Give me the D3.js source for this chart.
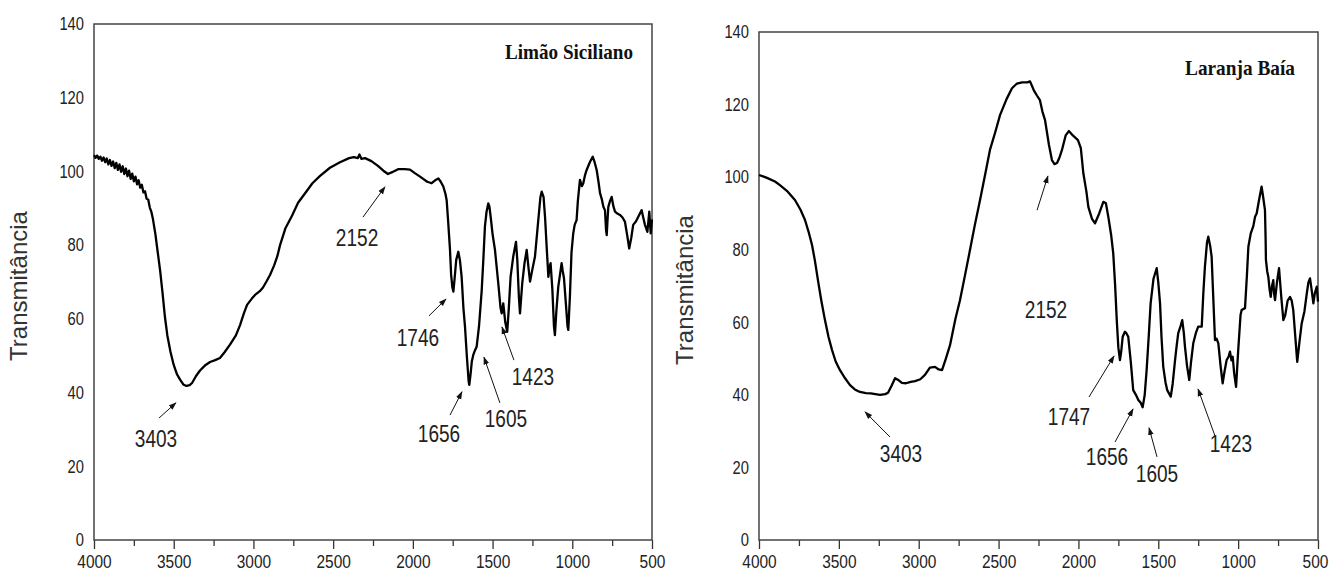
<!DOCTYPE html>
<html>
<head>
<meta charset="utf-8">
<script src="https://cdn.jsdelivr.net/npm/d3@7"></script>
<style>
  body { margin: 0; background: #fff; }
  svg { display: block; }
  .tick text { font-family: "Liberation Sans", Arial, sans-serif; font-size: 18px; fill: #222; }
  .ann { font-family: "Liberation Sans", Arial, sans-serif; font-size: 23px; fill: #222; }
  .ylab { font-family: "Liberation Sans", Arial, sans-serif; font-size: 24px; fill: #333; }
  .title { font-family: "Liberation Serif", "Times New Roman", serif; font-size: 21px; font-weight: bold; fill: #111; }
</style>
</head>
<body>
<svg id="chart"></svg>
<script>
// wavenumber (cm-1) ticks and transmittance ticks
const xTicks = [4000, 3750, 3500, 3250, 3000, 2750, 2500, 2250, 2000, 1750, 1500, 1250, 1000, 750, 500];
const xLabels = [4000, 3500, 3000, 2500, 2000, 1500, 1000, 500];
const yTicks = [0, 20, 40, 60, 80, 100, 120, 140];

// Limão Siciliano spectrum: [wavenumber, transmittance]
const limaoSpectrum = [
  [4000, 104.4], [3990, 103.7], [3980, 104.3], [3970, 103.4], [3960, 104.0], [3950, 102.9], [3940, 103.8],
  [3930, 102.5], [3920, 103.5], [3910, 101.9], [3900, 103.1], [3890, 101.5], [3880, 102.7], [3870, 100.9],
  [3860, 102.3], [3850, 100.4], [3840, 101.9], [3830, 99.9], [3820, 101.4], [3810, 99.3], [3800, 100.8],
  [3790, 98.7], [3780, 100.2], [3770, 98.0], [3760, 99.4], [3750, 97.3], [3740, 98.6], [3730, 96.5],
  [3720, 97.6], [3710, 95.6], [3700, 96.4], [3690, 94.3], [3680, 94.6], [3670, 92.6], [3660, 92.4],
  [3650, 90.2], [3640, 89.0], [3630, 87.0], [3615, 83.0], [3600, 78.0], [3585, 73.0], [3570, 67.0],
  [3555, 60.5], [3540, 55.5], [3520, 51.0], [3500, 47.5], [3480, 45.0], [3460, 43.5], [3440, 42.2],
  [3420, 41.8], [3400, 42.0], [3385, 42.6], [3360, 44.5], [3335, 46.0], [3300, 47.5], [3272, 48.3],
  [3240, 48.8], [3210, 49.4], [3180, 51.0], [3147, 53.0], [3110, 55.5], [3084, 58.3], [3060, 61.5],
  [3040, 63.8], [3010, 65.5], [2990, 66.5], [2960, 67.5], [2940, 68.5], [2920, 70.0], [2896, 71.9],
  [2870, 74.5], [2850, 77.0], [2833, 80.0], [2800, 84.5], [2758, 88.0], [2720, 91.5], [2677, 94.0],
  [2630, 96.8], [2582, 98.8], [2520, 101.0], [2457, 102.5], [2400, 103.6], [2370, 103.9], [2345, 103.6],
  [2335, 104.6], [2322, 103.4], [2300, 103.6], [2260, 102.8], [2219, 101.5], [2185, 100.2], [2156, 99.3],
  [2130, 99.8], [2093, 100.6], [2050, 100.6], [2018, 100.5], [1990, 99.6], [1955, 98.6], [1910, 97.2],
  [1882, 96.8], [1860, 97.6], [1840, 98.1], [1825, 97.2], [1809, 95.9], [1795, 93.8], [1788, 92.2],
  [1778, 86.0], [1767, 78.7], [1760, 72.0], [1752, 68.5], [1746, 67.4], [1738, 71.0], [1728, 76.0],
  [1715, 78.2], [1705, 76.0], [1694, 71.4], [1683, 63.0], [1673, 57.9], [1660, 49.0], [1650, 43.0],
  [1646, 42.1], [1638, 45.0], [1630, 48.5], [1621, 50.2], [1610, 51.5], [1600, 52.4], [1585, 58.0],
  [1568, 67.8], [1558, 76.0], [1548, 85.0], [1538, 89.0], [1527, 91.3], [1520, 90.5], [1512, 87.7],
  [1500, 83.0], [1485, 78.7], [1465, 70.0], [1450, 63.0], [1443, 61.5], [1433, 64.2], [1420, 59.0],
  [1408, 56.5], [1398, 63.0], [1387, 71.4], [1370, 77.0], [1353, 80.9], [1345, 76.0], [1335, 66.0],
  [1328, 61.5], [1314, 69.6], [1300, 75.0], [1286, 78.7], [1275, 74.0], [1265, 70.1], [1250, 73.5],
  [1234, 76.9], [1215, 86.0], [1200, 93.0], [1192, 94.5], [1180, 93.0], [1171, 87.7], [1160, 79.0],
  [1150, 71.4], [1143, 74.0], [1136, 75.1], [1125, 68.0], [1115, 58.0], [1109, 55.6], [1100, 62.0],
  [1088, 68.7], [1077, 72.0], [1067, 75.1], [1060, 73.0], [1052, 71.0], [1040, 64.0], [1030, 58.0],
  [1025, 57.0], [1015, 66.0], [1005, 78.0], [994, 83.2], [985, 85.5], [973, 86.8], [965, 92.0],
  [952, 97.7], [940, 96.0], [931, 96.8], [920, 99.0], [910, 100.4], [890, 102.5], [872, 104.0],
  [860, 102.5], [847, 100.4], [835, 97.0], [826, 94.1], [815, 92.5], [805, 90.4], [795, 89.5],
  [788, 84.0], [784, 82.7], [780, 86.0], [774, 90.4], [763, 92.0], [753, 93.1], [742, 90.5],
  [732, 89.1], [715, 88.5], [701, 88.2], [685, 87.5], [670, 86.4], [655, 82.5], [643, 79.1],
  [630, 82.0], [618, 85.5], [600, 86.5], [586, 87.7], [565, 89.5], [555, 87.5], [544, 85.5],
  [529, 83.6], [517, 89.1], [508, 83.2], [500, 87.0]
];

// Laranja Baía spectrum: [wavenumber, transmittance]
const laranjaSpectrum = [
  [4000, 100.6], [3950, 99.8], [3900, 98.8], [3869, 97.8], [3820, 96.0], [3775, 93.7], [3740, 91.0],
  [3712, 88.2], [3690, 85.0], [3668, 81.3], [3650, 77.0], [3631, 71.6], [3610, 66.0], [3587, 60.6],
  [3565, 56.0], [3543, 52.4], [3520, 49.2], [3493, 46.8], [3460, 44.5], [3430, 42.7], [3400, 41.5],
  [3368, 40.8], [3330, 40.5], [3300, 40.4], [3242, 40.0], [3210, 40.2], [3192, 40.6], [3170, 42.5],
  [3148, 44.6], [3125, 44.0], [3105, 43.3], [3080, 43.2], [3050, 43.6], [3023, 43.8], [2990, 44.3],
  [2961, 45.5], [2930, 47.5], [2898, 47.7], [2875, 47.0], [2854, 46.8], [2830, 50.0], [2804, 53.7],
  [2770, 61.0], [2742, 66.0], [2710, 73.0], [2679, 79.9], [2650, 86.5], [2616, 93.7], [2585, 100.5],
  [2554, 107.5], [2520, 112.5], [2491, 117.1], [2450, 121.5], [2416, 124.5], [2385, 125.8], [2353, 126.1],
  [2320, 126.1], [2303, 126.4], [2280, 124.0], [2260, 122.5], [2241, 121.2], [2225, 118.0], [2209, 115.7],
  [2185, 109.0], [2166, 104.7], [2150, 103.6], [2134, 103.9], [2118, 105.5], [2103, 107.5], [2080, 111.5],
  [2060, 112.7], [2035, 111.5], [2003, 110.2], [1985, 108.0], [1969, 101.0], [1950, 96.0], [1938, 91.8],
  [1915, 88.5], [1896, 87.3], [1870, 90.0], [1844, 93.2], [1828, 92.8], [1813, 89.1], [1795, 84.0],
  [1782, 79.0], [1770, 70.0], [1760, 60.6], [1750, 53.0], [1740, 49.6], [1732, 52.0], [1723, 56.0],
  [1709, 57.4], [1700, 57.0], [1688, 56.0], [1672, 49.0], [1657, 41.3], [1640, 40.0], [1625, 38.6],
  [1610, 37.8], [1598, 36.6], [1585, 40.0], [1573, 46.8], [1560, 56.0], [1548, 65.2], [1530, 72.0],
  [1510, 74.9], [1500, 71.0], [1489, 65.2], [1480, 56.0], [1469, 47.8], [1455, 43.5], [1444, 41.3],
  [1422, 39.5], [1410, 43.0], [1395, 49.6], [1385, 53.5], [1375, 57.0], [1360, 59.0], [1350, 60.6],
  [1340, 57.0], [1333, 53.3], [1320, 48.0], [1306, 44.1], [1295, 49.0], [1281, 54.2], [1265, 57.0],
  [1250, 58.8], [1228, 58.8], [1218, 68.0], [1208, 75.3], [1195, 82.0], [1187, 83.6], [1175, 81.0],
  [1166, 78.1], [1155, 66.0], [1145, 55.1], [1135, 55.5], [1124, 54.2], [1110, 48.0], [1097, 43.2],
  [1085, 46.5], [1072, 49.6], [1060, 50.5], [1051, 51.9], [1042, 49.5], [1034, 50.5], [1025, 46.0],
  [1013, 42.2], [1000, 52.0], [985, 62.0], [978, 63.4], [957, 63.9], [945, 73.0], [936, 80.8],
  [921, 84.5], [905, 86.5], [894, 89.1], [884, 90.0], [870, 93.5], [853, 97.4], [845, 95.0],
  [832, 90.9], [828, 83.0], [826, 77.2], [818, 74.0], [811, 72.5], [803, 69.0], [796, 67.0],
  [788, 70.0], [780, 71.6], [775, 68.0], [769, 66.1], [757, 71.0], [744, 74.9], [730, 67.0],
  [717, 60.6], [705, 62.0], [690, 66.0], [675, 67.0], [665, 66.0], [655, 63.4], [642, 56.0],
  [630, 49.1], [615, 55.0], [602, 59.7], [585, 63.0], [570, 68.0], [560, 71.0], [550, 72.1],
  [540, 69.0], [529, 65.2], [520, 68.0], [508, 69.8], [500, 65.7]
];

// peak labels: text, label point, arrow tail, arrow head (all in data units)
const limaoPeaks = [
  { text: '3403', at: [3611, 27.4], from: [3592, 33.1], to: [3486, 37.2] },
  { text: '2152', at: [2350, 81.9], from: [2313, 87.6], to: [2175, 95.8] },
  { text: '1746', at: [1968, 54.8], from: [1899, 60.8], to: [1792, 65.4] },
  { text: '1656', at: [1836, 28.8], from: [1767, 33.9], to: [1692, 40.2] },
  { text: '1605', at: [1416, 32.8], from: [1454, 37.2], to: [1554, 49.6] },
  { text: '1423', at: [1247, 44.2], from: [1366, 48.8], to: [1441, 57.8] }
];
const laranjaPeaks = [
  { text: '3403', at: [3111, 23.7], from: [3180, 28.4], to: [3336, 35.3] },
  { text: '2152', at: [2203, 63.4], from: [2259, 90.9], to: [2191, 100.3] },
  { text: '1747', at: [2059, 33.9], from: [1934, 39.4], to: [1777, 50.7] },
  { text: '1656', at: [1821, 22.9], from: [1771, 27.0], to: [1658, 36.1] },
  { text: '1605', at: [1508, 18.2], from: [1508, 22.9], to: [1558, 30.9] },
  { text: '1423', at: [1045, 26.5], from: [1145, 28.7], to: [1251, 41.6] }
];

const panels = [
  { title: 'Limão Siciliano', spectrum: limaoSpectrum, peaks: limaoPeaks,
    left: 94, right: 652, top: 24, bottom: 540, titleX: 633, titleY: 59, titleW: 128, labelX: 21 },
  { title: 'Laranja Baía', spectrum: laranjaSpectrum, peaks: laranjaPeaks,
    left: 759, right: 1318, top: 32, bottom: 540, titleX: 1295, titleY: 75, titleW: 110, labelX: 687 }
];

const svg = d3.select('#chart')
  .attr('width', 1332)
  .attr('height', 574);

svg.append('defs').append('marker')
  .attr('id', 'head')
  .attr('viewBox', '0 0 10 10')
  .attr('refX', 9)
  .attr('refY', 5)
  .attr('markerWidth', 8)
  .attr('markerHeight', 8)
  .attr('markerUnits', 'userSpaceOnUse')
  .attr('orient', 'auto')
  .append('path')
  .attr('d', 'M0,1.5 L10,5 L0,8.5 Z')
  .attr('fill', '#111');

// the original uses a narrow face, squeeze the digits to match
function squeeze(sel, perChar) {
  sel.attr('textLength', function() { return this.textContent.length * perChar; })
    .attr('lengthAdjust', 'spacingAndGlyphs');
}

function drawPanel(p) {
  const x = d3.scaleLinear().domain([4000, 500]).range([p.left, p.right]);
  const y = d3.scaleLinear().domain([0, 140]).range([p.bottom, p.top]);
  const g = svg.append('g');

  const xAxis = g.append('g')
    .attr('transform', `translate(0,${p.bottom})`)
    .call(d3.axisBottom(x)
      .tickValues(xTicks)
      .tickSize(9)
      .tickPadding(6)
      .tickFormat(d => xLabels.includes(d) ? d : ''));
  xAxis.select('.domain').remove();
  xAxis.selectAll('.tick line')
    .attr('stroke', '#333')
    .attr('stroke-width', 1.3)
    .attr('y2', d => xLabels.includes(d) ? 9 : 6);
  squeeze(xAxis.selectAll('.tick text'), 8.6);
  // keep the last label inside the window
  xAxis.selectAll('.tick text').filter(d => d === 500 && p.right > 1300).attr('dx', -3);

  const yAxis = g.append('g')
    .attr('transform', `translate(${p.left},0)`)
    .call(d3.axisLeft(y).tickValues(yTicks).tickSize(0).tickPadding(10));
  yAxis.select('.domain').remove();
  squeeze(yAxis.selectAll('.tick text'), 8.2);

  g.append('rect')
    .attr('x', p.left)
    .attr('y', p.top)
    .attr('width', p.right - p.left)
    .attr('height', p.bottom - p.top)
    .attr('fill', 'none')
    .attr('stroke', '#444')
    .attr('stroke-width', 1.5);

  const line = d3.line()
    .x(d => x(d[0]))
    .y(d => y(d[1]));

  g.append('path')
    .datum(p.spectrum)
    .attr('d', line)
    .attr('fill', 'none')
    .attr('stroke', '#000')
    .attr('stroke-width', 2.3)
    .attr('stroke-linejoin', 'round');

  g.append('text')
    .attr('class', 'title')
    .attr('x', p.titleX)
    .attr('y', p.titleY)
    .attr('text-anchor', 'end')
    .attr('textLength', p.titleW)
    .attr('lengthAdjust', 'spacingAndGlyphs')
    .text(p.title);

  g.append('text')
    .attr('class', 'ylab')
    .attr('transform', `translate(${p.labelX},${(p.top + p.bottom) / 2 + 4}) rotate(-90)`)
    .attr('text-anchor', 'middle')
    .attr('dominant-baseline', 'middle')
    .text('Transmitância');

  g.selectAll('.arrow')
    .data(p.peaks)
    .enter()
    .append('line')
    .attr('class', 'arrow')
    .attr('x1', d => x(d.from[0]))
    .attr('y1', d => y(d.from[1]))
    .attr('x2', d => x(d.to[0]))
    .attr('y2', d => y(d.to[1]))
    .attr('stroke', '#111')
    .attr('stroke-width', 1)
    .attr('marker-end', 'url(#head)');

  const ann = g.selectAll('.ann')
    .data(p.peaks)
    .enter()
    .append('text')
    .attr('class', 'ann')
    .attr('x', d => x(d.at[0]))
    .attr('y', d => y(d.at[1]))
    .attr('text-anchor', 'middle')
    .attr('dominant-baseline', 'central')
    .text(d => d.text);
  squeeze(ann, 10.6);
}

panels.forEach(drawPanel);
</script>
</body>
</html>
